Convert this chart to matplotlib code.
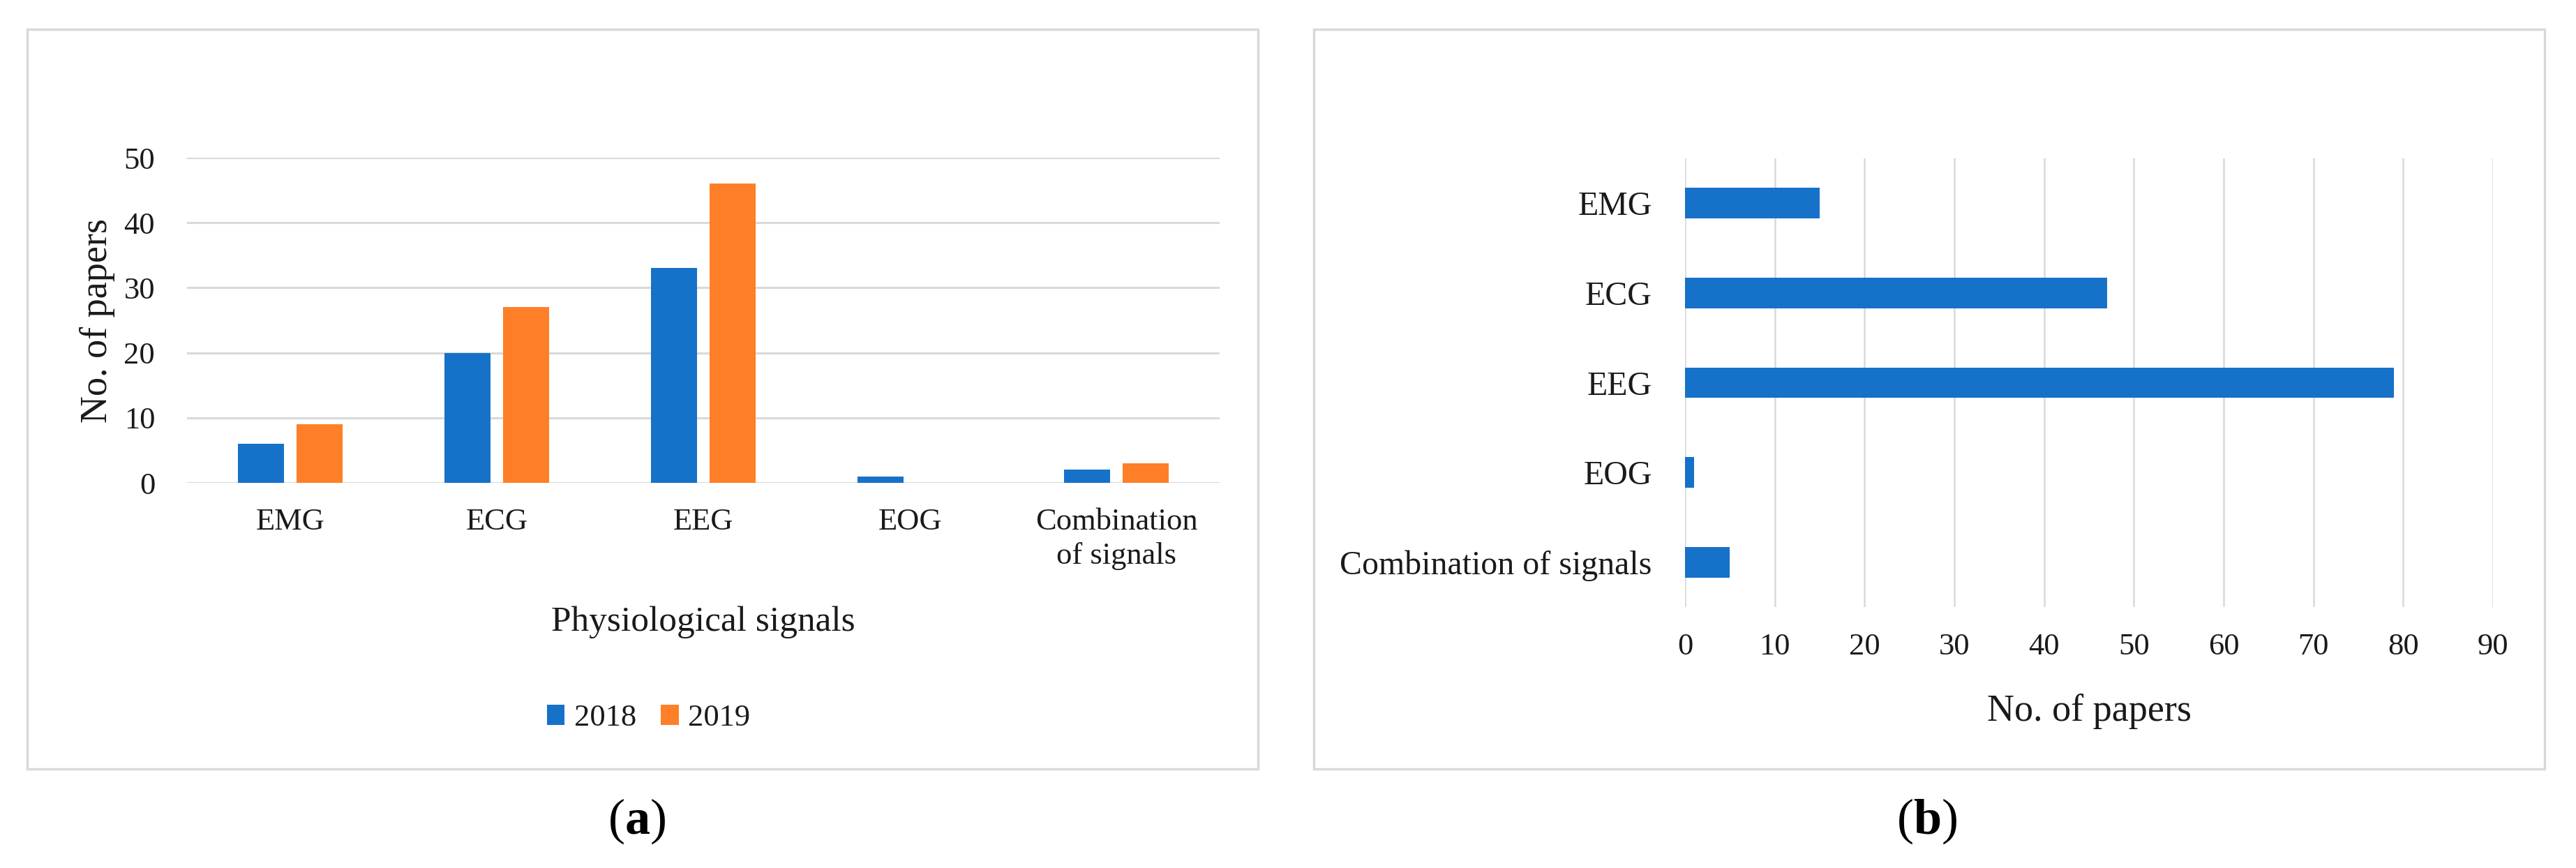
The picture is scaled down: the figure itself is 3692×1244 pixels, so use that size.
import numpy as np
import matplotlib
matplotlib.use("Agg")
import matplotlib.pyplot as plt
from matplotlib.patches import Rectangle

plt.rcParams["font.family"] = ["Liberation Serif", "DejaVu Serif"]
plt.rcParams["mathtext.fontset"] = "custom"
plt.rcParams["mathtext.rm"] = "Liberation Serif"
plt.rcParams["mathtext.bf"] = "Liberation Serif:bold"

# --- data -----------------------------------------------------------------------
signals = ["EMG", "ECG", "EEG", "EOG", "Combination\nof signals"]
papers_2018 = [6, 20, 33, 1, 2]
papers_2019 = [9, 27, 46, 0, 3]

signals_b = ["EMG", "ECG", "EEG", "EOG", "Combination of signals"]
papers_total = [15, 47, 79, 1, 5]

BLUE = "#1671c8"
ORANGE = "#fe7f27"
GRID = "#d9d9d9"
TXT = "#1a1a1a"

W, H = 3692, 1244
fig = plt.figure(figsize=(W / 100, H / 100), dpi=100)


def box(x0, y0, x1, y1):
    # pixel box (top-left origin) -> figure fraction rect
    return [x0 / W, 1 - y1 / H, (x1 - x0) / W, (y1 - y0) / H]


# light grey frames round each panel
for x0, x1 in [(39, 1803), (1883, 3647)]:
    fig.add_artist(Rectangle((x0 / W, 1 - 1102 / H), (x1 - x0) / W, (1102 - 42) / H,
                             transform=fig.transFigure, fill=False, ec=GRID, lw=2.5))

# --- (a) papers per signal, by year ---------------------------------------------
ax = fig.add_axes(box(268, 226, 1748, 692))
x = np.arange(len(signals))
ax.bar(x - 0.142, papers_2018, 0.22, color=BLUE, label="2018", zorder=3)
ax.bar(x + 0.142, papers_2019, 0.22, color=ORANGE, label="2019", zorder=3)
ax.set_xlim(-0.5, 4.5)
ax.set_ylim(0, 50)
ax.set_yticks(range(0, 51, 10))
ax.set_xticks(x, signals)
ax.grid(axis="y", color=GRID, lw=2.2)
ax.set_axisbelow(True)
for s in ax.spines.values():
    s.set_visible(False)
ax.tick_params(length=0, labelsize=32, colors=TXT)
ax.tick_params(axis="y", pad=33)
ax.tick_params(axis="x", pad=26)
for lbl in ax.get_xticklabels():
    lbl.set_linespacing(1.3)

ax.set_ylabel("No. of papers", fontsize=39, color=TXT)
ax.yaxis.set_label_coords(-0.0865, 0.5)
ax.yaxis.label.set_va("center")
ax.set_xlabel("Physiological signals", fontsize=37, color=TXT)
ax.xaxis.set_label_coords(0.5, -0.429)
ax.xaxis.label.set_va("center")

ax.legend(ncol=2, loc="center", bbox_to_anchor=(0.447, -0.723), frameon=False,
          fontsize=32, handlelength=0.57, handleheight=0.64, handletextpad=0.3,
          columnspacing=0.8, labelcolor=TXT)

# --- (b) total papers per signal ------------------------------------------------
ax2 = fig.add_axes(box(2415, 227, 3573, 870))
y = np.arange(len(signals_b))
ax2.barh(y, papers_total, height=0.34, color=BLUE, zorder=3)
ax2.set_ylim(4.5, -0.5)
ax2.set_xlim(0, 90)
ax2.set_xticks(range(0, 91, 10))
ax2.set_yticks(y, signals_b)
ax2.grid(axis="x", color=GRID, lw=1.8)
ax2.set_axisbelow(True)
for s in ax2.spines.values():
    s.set_visible(False)
ax2.tick_params(length=0, colors=TXT)
ax2.tick_params(axis="x", labelsize=32, pad=27)
ax2.tick_params(axis="y", labelsize=34.5, pad=34)

ax2.set_xlabel("No. of papers", fontsize=39, color=TXT)
ax2.xaxis.set_label_coords(0.5, -0.232)
ax2.xaxis.label.set_va("center")

# panel letters
fig.text(913 / W, 1 - 1177 / H, r"($\mathbf{a}$)", fontsize=52, ha="center", va="center", color="black")
fig.text(2762 / W, 1 - 1177 / H, r"($\mathbf{b}$)", fontsize=52, ha="center", va="center", color="black")

fig.savefig("out.png", dpi=100)
